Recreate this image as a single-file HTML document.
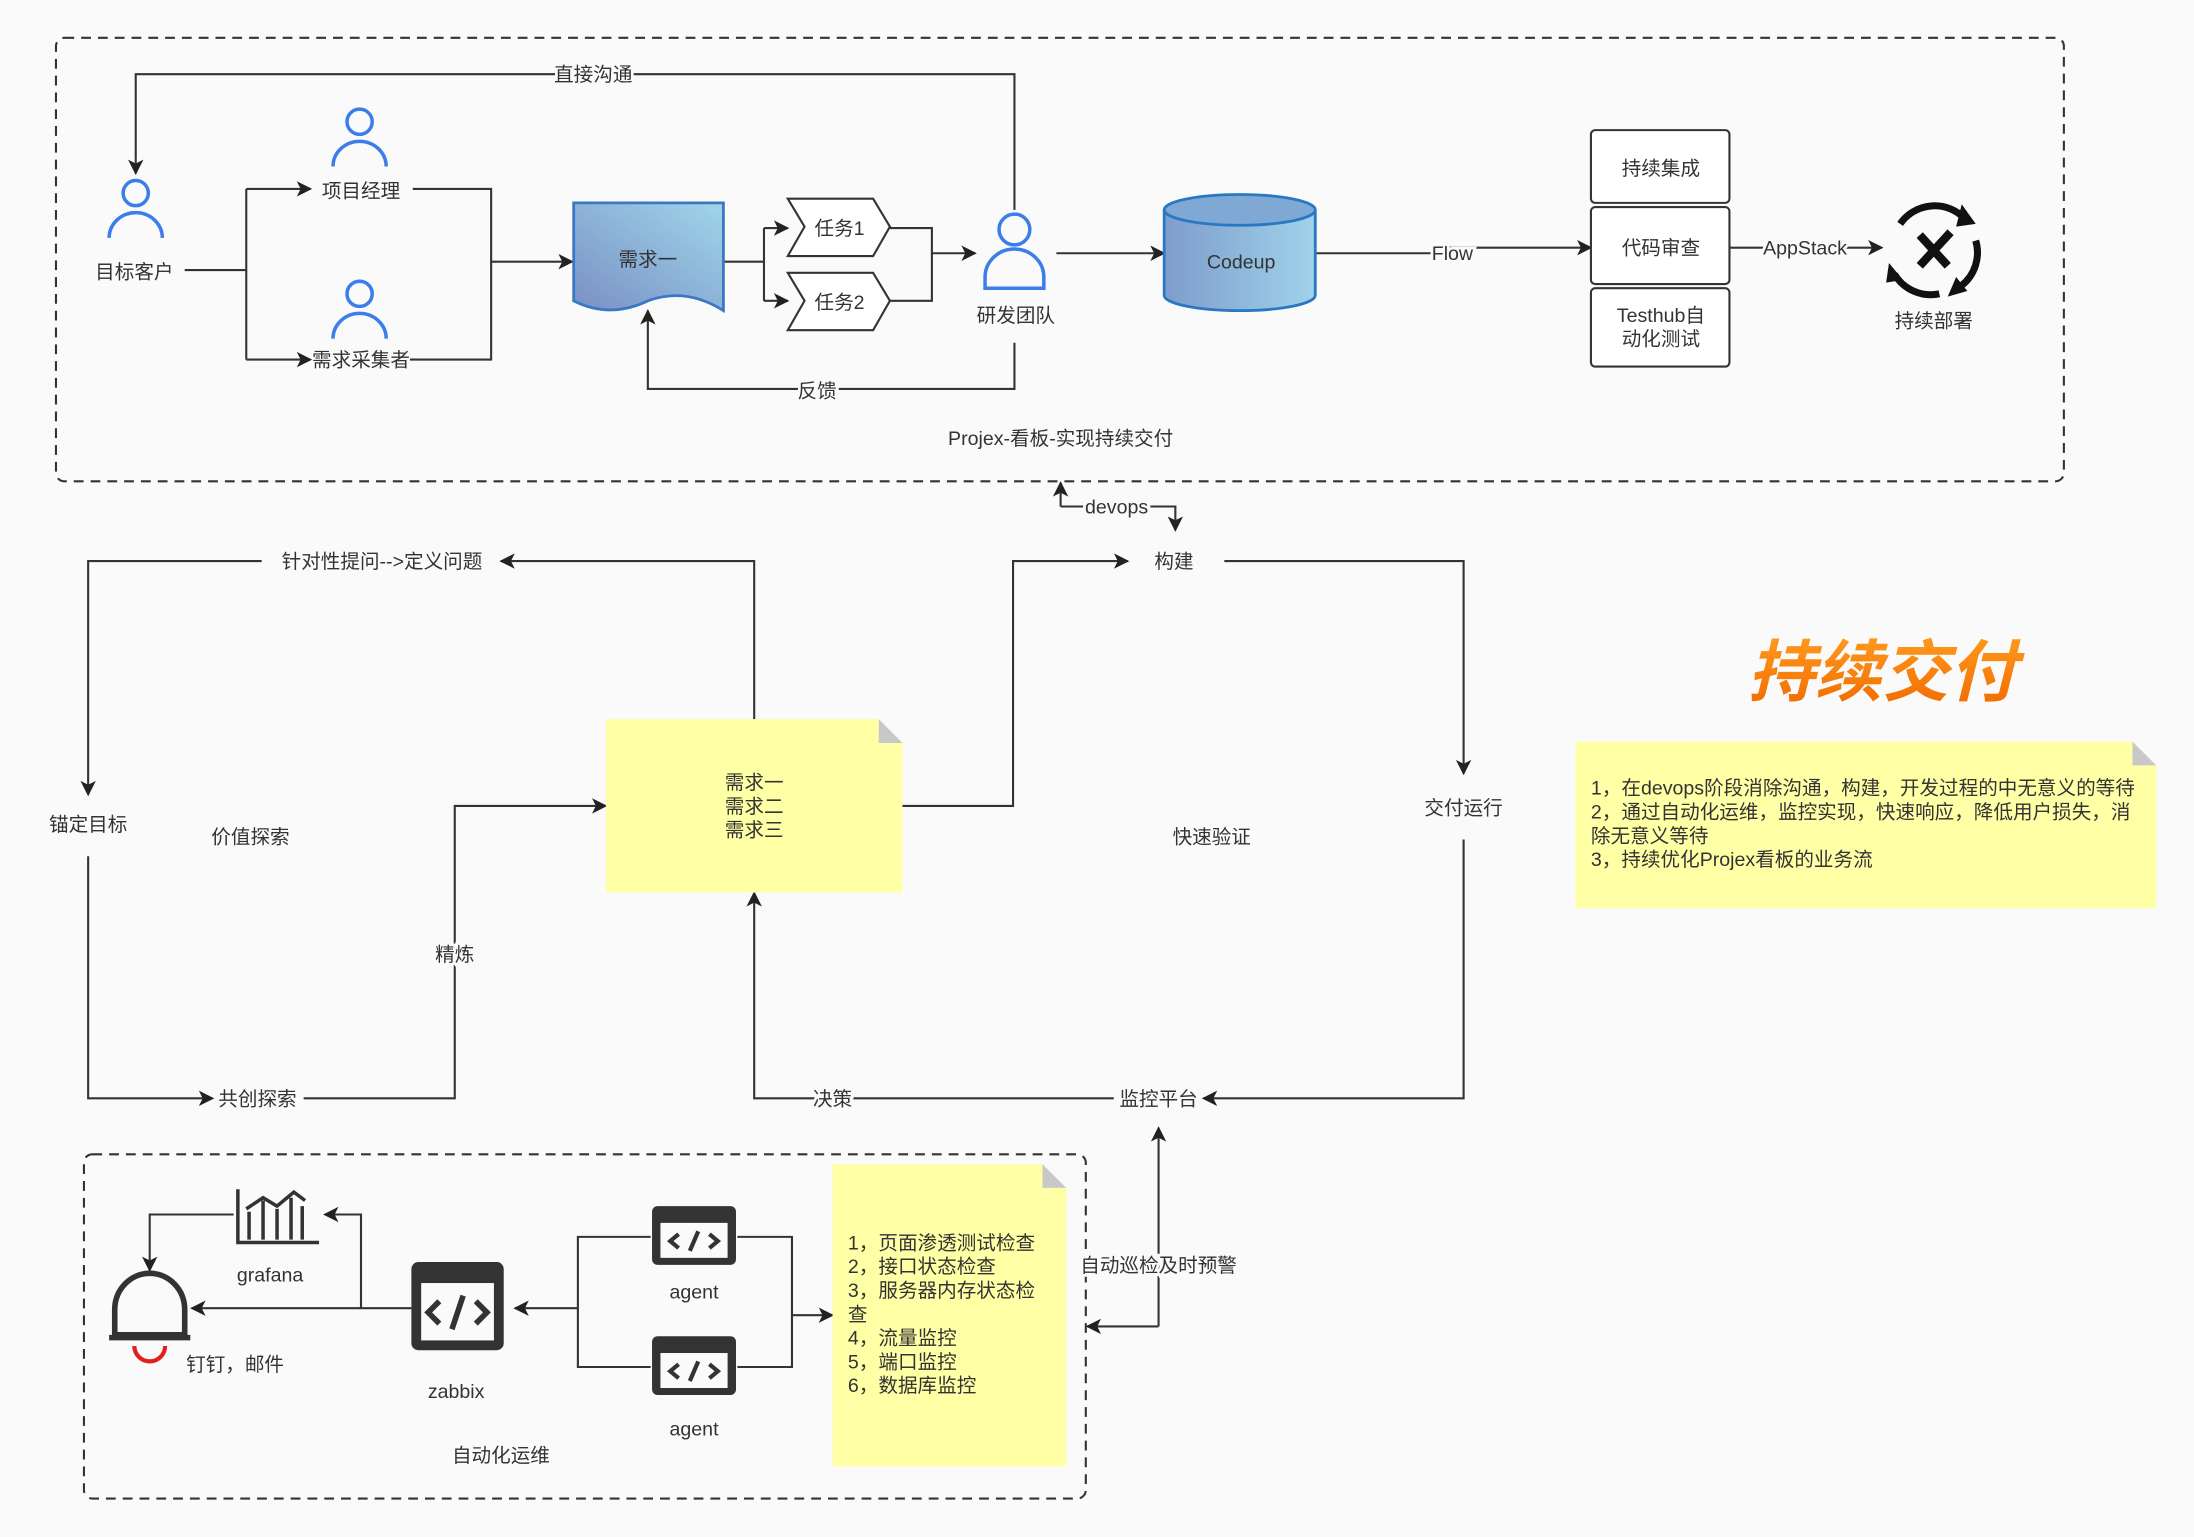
<!DOCTYPE html>
<html><head><meta charset="utf-8"><style>
html,body{margin:0;padding:0;background:#fafafa;}
svg{display:block;}
text{font-family:"Liberation Sans","Noto Sans CJK SC",sans-serif;font-size:14px;fill:#333;}
</style></head><body>
<svg width="2194" height="1537" viewBox="0 0 1568 1098.5" preserveAspectRatio="none" xmlns="http://www.w3.org/2000/svg">
<defs>
<marker id="a" viewBox="0 0 10 10" refX="9" refY="5" markerWidth="12" markerHeight="11" orient="auto" markerUnits="userSpaceOnUse"><path d="M0,0 L10,5 L0,10 L2.5,5 z" fill="#222"/></marker>
<linearGradient id="g1" x1="0" y1="1" x2="1" y2="0"><stop offset="0" stop-color="#7a8fc4"/><stop offset="1" stop-color="#9fd6ea"/></linearGradient>
<linearGradient id="g2" x1="0" y1="0" x2="1" y2="0"><stop offset="0" stop-color="#7e9ccc"/><stop offset="1" stop-color="#9fd3ea"/></linearGradient>
<linearGradient id="og" x1="0" y1="0" x2="0" y2="1"><stop offset="0" stop-color="#ff9a1e"/><stop offset="1" stop-color="#f06a00"/></linearGradient>
</defs>
<rect x="0" y="0" width="1568" height="1099" fill="#fafafa"/>
<rect x="40" y="27" width="1435" height="317" rx="6" fill="none" stroke="#333" stroke-width="1.5" stroke-dasharray="7 5"/>
<rect x="60" y="825" width="716" height="246" rx="6" fill="none" stroke="#333" stroke-width="1.5" stroke-dasharray="7 5"/>

<g fill="none" stroke="#3b7de9" stroke-width="2.5">
<circle cx="97" cy="138" r="9"/><path d="M78,170 a19,18 0 0 1 38,0"/>
<circle cx="257" cy="87" r="9"/><path d="M238,119 a19,18 0 0 1 38,0"/>
<circle cx="257" cy="210" r="9"/><path d="M238,242 a19,18 0 0 1 38,0"/>
<circle cx="725" cy="164" r="11"/><path d="M704,206 v-8 a21,20 0 0 1 42,0 v8 z"/>
</g>
<g fill="none" stroke="#333" stroke-width="1.5">
<path d="M132,193 H176 M176,135 V257 M176,135 H222" marker-end="url(#a)"/>
<path d="M176,257 H222" marker-end="url(#a)"/>
<path d="M295,135 H351 V257 H293"/>
<path d="M351,187 H409" marker-end="url(#a)"/>
<path d="M517,187 H546 M546,163 V215 M546,163 H563" marker-end="url(#a)"/>
<path d="M546,215 H563" marker-end="url(#a)"/>
<path d="M636,163 H666 V215 H636 M666,181 H697" marker-end="url(#a)"/>
<path d="M725,150 V53 H97 V124" marker-end="url(#a)"/>
<path d="M725,245 V278 H463 V222" marker-end="url(#a)"/>
<path d="M755,181 H832" marker-end="url(#a)"/>
<path d="M940,181 H1030 V177 H1137" marker-end="url(#a)"/>
<path d="M1236,177 H1345" marker-end="url(#a)"/>
<path d="M758,362 V345" marker-end="url(#a)"/>
<path d="M758,362 H840 V379" marker-end="url(#a)"/>
<path d="M645,576 H724 V401 H806" marker-end="url(#a)"/>
<path d="M875,401 H1046 V553" marker-end="url(#a)"/>
<path d="M1046,600 V785 H860" marker-end="url(#a)"/>
<path d="M796,785 H539 V638" marker-end="url(#a)"/>
<path d="M539,514 V401 H358" marker-end="url(#a)"/>
<path d="M187,401 H63 V568" marker-end="url(#a)"/>
<path d="M63,612 V785 H152" marker-end="url(#a)"/>
<path d="M217,785 H325 V576 H433" marker-end="url(#a)"/>
<path d="M828,948 V806" marker-end="url(#a)"/>
<path d="M828,948 H777" marker-end="url(#a)"/>
<path d="M465,884 H413 V977 H465 M413,935 H368" marker-end="url(#a)"/>
<path d="M527,884 H566 V977 H527 M566,940 H595" marker-end="url(#a)"/>
<path d="M294,935 H137" marker-end="url(#a)"/>
<path d="M258,935 V868 H232" marker-end="url(#a)"/>
<path d="M167,868 H107 V908" marker-end="url(#a)"/>
</g>

<path d="M410,145 H517 V222 Q490,205 463,215 Q436,228 410,215 Z" fill="url(#g1)" stroke="#3a78c4" stroke-width="2"/>
<path d="M563,142 H624 L636,162 L624,183 H563 L575,162 Z" fill="#fff" stroke="#333" stroke-width="1.5"/>
<path d="M563,195 H624 L636,215 L624,236 H563 L575,215 Z" fill="#fff" stroke="#333" stroke-width="1.5"/>
<path d="M832,150 V211 A54,11 0 0 0 940,211 V150" fill="url(#g2)" stroke="#2a78c2" stroke-width="2"/>
<ellipse cx="886" cy="150" rx="54" ry="11" fill="#7fa9d4" stroke="#2a78c2" stroke-width="2"/>
<g fill="#fff" stroke="#333" stroke-width="1.5">
<rect x="1137" y="93" width="99" height="52" rx="3"/>
<rect x="1137" y="148" width="99" height="55" rx="3"/>
<rect x="1137" y="206" width="99" height="56" rx="3"/>
</g>
<g fill="none" stroke="#111" stroke-width="5">
<path d="M1358,160 A30,30 0 0 1 1404,156"/><path d="M1412,172 A30,30 0 0 1 1402,204"/>
<path d="M1386,210 A30,30 0 0 1 1354,196"/>
<path d="M1372,168 L1392,190 M1394,166 L1372,190" stroke-width="6"/>
</g>
<g fill="#111"><path d="M1402,146 L1412,160 L1398,162 Z"/><path d="M1406,208 L1392,212 L1398,198 Z"/><path d="M1350,188 L1360,200 L1348,202 Z"/></g>

<path d="M433,514 H628 L645,531 V638 H433 Z" fill="#ffffa6"/><path d="M628,514 V531 H645 Z" fill="#c8c8c8"/>
<path d="M1126,530 H1524 L1541,547 V649 H1126 Z" fill="#ffffa6"/><path d="M1524,530 V547 H1541 Z" fill="#c8c8c8"/>
<path d="M595,832 H745 L762,849 V1048 H595 Z" fill="#ffffa6"/><path d="M745,832 V849 H762 Z" fill="#c8c8c8"/>

<g fill="#333">
<rect x="466" y="862" width="60" height="42" rx="4"/><rect x="472" y="874" width="48" height="25" fill="#fafafa"/>
<rect x="466" y="955" width="60" height="42" rx="4"/><rect x="472" y="967" width="48" height="25" fill="#fafafa"/>
<rect x="294" y="902" width="66" height="63" rx="5"/><rect x="301" y="917" width="52" height="41" fill="#fafafa"/>
</g>
<g fill="none" stroke="#333" stroke-width="3">
<path d="M485,882 l-6,5 6,5 M507,882 l6,5 -6,5 M499,880 l-6,14"/>
<path d="M485,975 l-6,5 6,5 M507,975 l6,5 -6,5 M499,973 l-6,14"/>
<path d="M314,930 l-8,8 8,8 M340,930 l8,8 -8,8 M331,926 l-8,24" stroke-width="4"/>
<path d="M170,850 V888 H228 M178,886 V866 M188,886 V858 M198,886 V864 M208,886 V856 M216,886 V862 M176,864 L188,856 L198,862 L210,852 L218,858" stroke-width="2.5"/>
</g>
<path d="M96,962 A10,10 0 0 0 118,962" fill="none" stroke="#e01f1f" stroke-width="3"/>
<path d="M82,954 V936 A25,26 0 0 1 132,936 V954 Z" fill="none" stroke="#333" stroke-width="4"/>
<path d="M78,956 H136" stroke="#333" stroke-width="4"/>

<g text-anchor="middle">
<text x="96" y="199">目标客户</text>
<text x="258" y="141">项目经理</text>
<text x="258" y="262" fill="#333">需求采集者</text>
<text x="463" y="190">需求一</text>
<text x="600" y="168">任务1</text>
<text x="600" y="221">任务2</text>
<text x="726" y="230">研发团队</text>
<text x="424" y="58" style="paint-order:stroke" stroke="#fafafa" stroke-width="4">直接沟通</text>
<text x="584" y="284" style="paint-order:stroke" stroke="#fafafa" stroke-width="4">反馈</text>
<text x="887" y="192">Codeup</text>
<text x="1038" y="186" style="paint-order:stroke" stroke="#fafafa" stroke-width="4">Flow</text>
<text x="1187" y="125">持续集成</text>
<text x="1187" y="182">代码审查</text>
<text x="1187" y="230">Testhub自</text>
<text x="1187" y="247">动化测试</text>
<text x="1290" y="182" style="paint-order:stroke" stroke="#fafafa" stroke-width="4">AppStack</text>
<text x="1382" y="234">持续部署</text>
<text x="758" y="318">Projex-看板-实现持续交付</text>
<text x="798" y="367" style="paint-order:stroke" stroke="#fafafa" stroke-width="4">devops</text>
<text x="839" y="406">构建</text>
<text x="273" y="406" style="paint-order:stroke" stroke="#fafafa" stroke-width="4">针对性提问--&gt;定义问题</text>
<text x="63" y="594">锚定目标</text>
<text x="179" y="603">价值探索</text>
<text x="866" y="603">快速验证</text>
<text x="1046" y="582">交付运行</text>
<text x="325" y="687" style="paint-order:stroke" stroke="#fafafa" stroke-width="4">精炼</text>
<text x="184" y="790">共创探索</text>
<text x="595" y="790" style="paint-order:stroke" stroke="#fafafa" stroke-width="4">决策</text>
<text x="828" y="790">监控平台</text>
<text x="539" y="564">需求一</text>
<text x="539" y="581">需求二</text>
<text x="539" y="598">需求三</text>
<text x="828" y="909" style="paint-order:stroke" stroke="#fafafa" stroke-width="4">自动巡检及时预警</text>
<text x="496" y="928">agent</text>
<text x="496" y="1026">agent</text>
<text x="326" y="999">zabbix</text>
<text x="193" y="916">grafana</text>
<text x="168" y="980">钉钉，邮件</text>
<text x="358" y="1045">自动化运维</text>
<text x="1345" y="497" style="font-size:48px;font-weight:bold;font-style:italic;fill:url(#og)">持续交付</text>
</g>
<g>
<text x="1137" y="568">1，在devops阶段消除沟通，构建，开发过程的中无意义的等待</text>
<text x="1137" y="585">2，通过自动化运维，监控实现，快速响应，降低用户损失，消</text>
<text x="1137" y="602">除无意义等待</text>
<text x="1137" y="619">3，持续优化Projex看板的业务流</text>
<text x="606" y="893">1，页面渗透测试检查</text>
<text x="606" y="910">2，接口状态检查</text>
<text x="606" y="927">3，服务器内存状态检</text>
<text x="606" y="944">查</text>
<text x="606" y="961">4，流量监控</text>
<text x="606" y="978">5，端口监控</text>
<text x="606" y="995">6，数据库监控</text>
</g>
</svg>
</body></html>
